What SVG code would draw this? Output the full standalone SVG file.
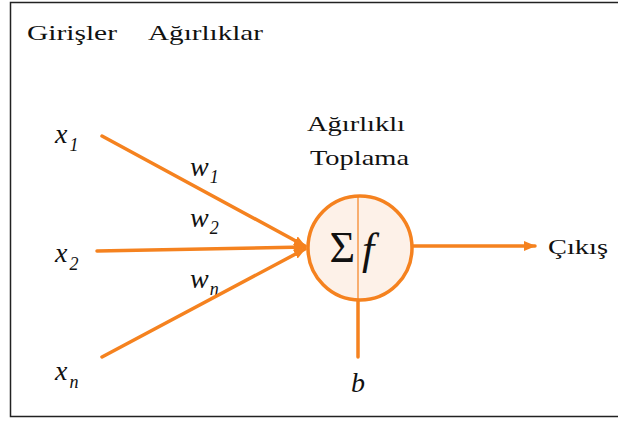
<svg xmlns="http://www.w3.org/2000/svg" width="618" height="421" viewBox="0 0 618 421">
<defs>
<marker id="ah" viewBox="0 0 12 10" refX="11" refY="5" markerWidth="12" markerHeight="10" markerUnits="userSpaceOnUse" orient="auto">
<path d="M0,0 L12,5 L0,10 z" fill="#f5821f"/>
</marker>
</defs>
<rect x="0" y="0" width="618" height="421" fill="#fff"/>
<path d="M630,2.5 H10.5 V416.5 H630" fill="none" stroke="#222" stroke-width="1.5"/>
<g font-family="Liberation Serif, Tinos, DejaVu Serif, serif" fill="#111">
<g id="labels" font-size="22">
<text x="27" y="40" textLength="90" lengthAdjust="spacingAndGlyphs">Girişler</text>
<text x="148" y="40" textLength="115" lengthAdjust="spacingAndGlyphs">Ağırlıklar</text>
<text x="307" y="131" textLength="98" lengthAdjust="spacingAndGlyphs">Ağırlıklı</text>
<text x="310" y="165" textLength="99" lengthAdjust="spacingAndGlyphs">Toplama</text>
</g>
<g id="x1" font-size="28" font-style="italic"><text x="55" y="143">x<tspan font-size="18" dx="2" dy="8">1</tspan></text></g>
<g id="x2" font-size="28" font-style="italic"><text x="55" y="262">x<tspan font-size="18" dx="2" dy="8">2</tspan></text></g>
<g id="xn" font-size="28" font-style="italic"><text x="55" y="380">x<tspan font-size="18" dx="2" dy="8">n</tspan></text></g>
<g id="w" font-size="28" font-style="italic">
<text x="190" y="176">w<tspan font-size="18" dx="1" dy="7">1</tspan></text>
<text x="190" y="227">w<tspan font-size="18" dx="1" dy="7">2</tspan></text>
<text x="190" y="288">w<tspan font-size="18" dx="1" dy="7">n</tspan></text>
</g>
</g>
<g id="connectors" stroke="#f5821f" stroke-width="3.5" fill="none" stroke-linecap="round">
<line x1="102" y1="136" x2="305" y2="246" marker-end="url(#ah)"/>
<line x1="97" y1="251" x2="305" y2="247" marker-end="url(#ah)"/>
<line x1="102" y1="357" x2="305" y2="249" marker-end="url(#ah)"/>
<line x1="358" y1="300" x2="358" y2="357"/>
<line x1="413" y1="246" x2="535" y2="246" marker-end="url(#ah)"/>
</g>
<g id="neuron" font-family="Liberation Serif, Tinos, DejaVu Serif, serif" fill="#111">
<circle cx="360" cy="248" r="52" fill="#fdf1e8" stroke="#f5821f" stroke-width="3.5"/>
<line x1="358" y1="196" x2="358" y2="300" stroke="#f5821f" stroke-width="1.2"/>
<text x="355" y="262" font-size="44" text-anchor="end">Σ</text>
<text x="362" y="264" font-size="44" font-style="italic">f</text>
</g>
<g id="b" font-family="Liberation Serif, Tinos, DejaVu Serif, serif" fill="#111"><text x="358" y="392" font-size="28" font-style="italic" text-anchor="middle">b</text></g>
<g id="out" font-family="Liberation Serif, Tinos, DejaVu Serif, serif" fill="#111"><text x="548" y="254" font-size="22" textLength="60" lengthAdjust="spacingAndGlyphs">Çıkış</text></g>
</svg>
